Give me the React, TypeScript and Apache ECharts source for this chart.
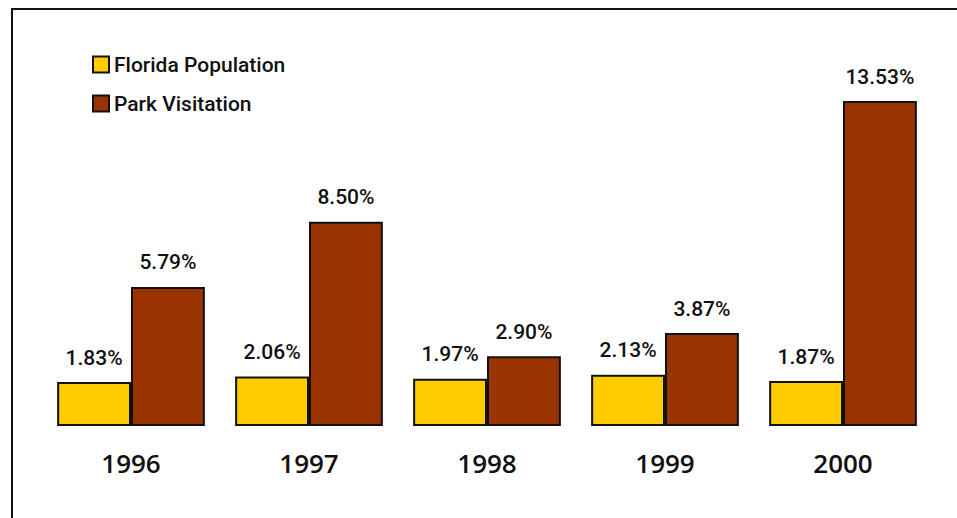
import React, { useEffect, useRef } from "react";
import * as echarts from "echarts";

const years = ["1996", "1997", "1998", "1999", "2000"];
const floridaPopulation = [1.83, 2.06, 1.97, 2.13, 1.87];
const parkVisitation = [5.79, 8.5, 2.9, 3.87, 13.53];

const FONT = 'Roboto, "Noto Sans", sans-serif';

export default function App() {
  const ref = useRef<HTMLDivElement>(null);

  useEffect(() => {
    if (!ref.current) return;
    const chart = echarts.init(ref.current, null, { renderer: "svg" });
    const label = {
      show: true,
      position: "top" as const,
      distance: 14,
      formatter: (p: any) => `${Number(p.value).toFixed(2)}%`,
      color: "#111",
      fontFamily: FONT,
      fontSize: 21,
      fontWeight: 500,
    };
    chart.setOption({
      animation: false,
      backgroundColor: "#fff",
      grid: { left: 42, right: 25, top: 101, bottom: 92 },
      legend: {
        orient: "vertical",
        left: 92,
        top: 54,
        padding: 0,
        itemWidth: 16,
        itemHeight: 16,
        itemGap: 18,
        icon: "rect",
        textStyle: { fontFamily: FONT, fontSize: 21, fontWeight: 500, color: "#111", lineHeight: 18 },
        data: ["Florida Population", "Park Visitation"],
      },
      xAxis: {
        type: "category",
        data: years,
        axisLine: { show: false },
        axisTick: { show: false },
        axisLabel: {
          margin: 24,
          fontFamily: '"Open Sans", "Noto Sans", sans-serif',
          fontSize: 26,
          fontWeight: 600,
          color: "#111",
        },
      },
      yAxis: {
        type: "value",
        min: 0,
        max: 13.53,
        show: false,
        splitLine: { show: false },
      },
      series: [
        {
          name: "Florida Population",
          type: "bar",
          data: floridaPopulation,
          barGap: "0%",
          barCategoryGap: "17%",
          itemStyle: { color: "#FFCC00", borderColor: "#111", borderWidth: 2 },
          label,
        },
        {
          name: "Park Visitation",
          type: "bar",
          data: parkVisitation,
          itemStyle: { color: "#993300", borderColor: "#111", borderWidth: 2 },
          label,
        },
      ],
      graphic: [
        { type: "line", shape: { x1: 11, y1: 9, x2: 957, y2: 9 }, style: { stroke: "#111", lineWidth: 2 } },
        { type: "line", shape: { x1: 12, y1: 8, x2: 12, y2: 518 }, style: { stroke: "#111", lineWidth: 2 } },
      ],
    });
    return () => chart.dispose();
  }, []);

  return (
    <div
      ref={ref}
      style={{ position: "fixed", left: 0, top: 0, width: 957, height: 518 }}
    />
  );
}
